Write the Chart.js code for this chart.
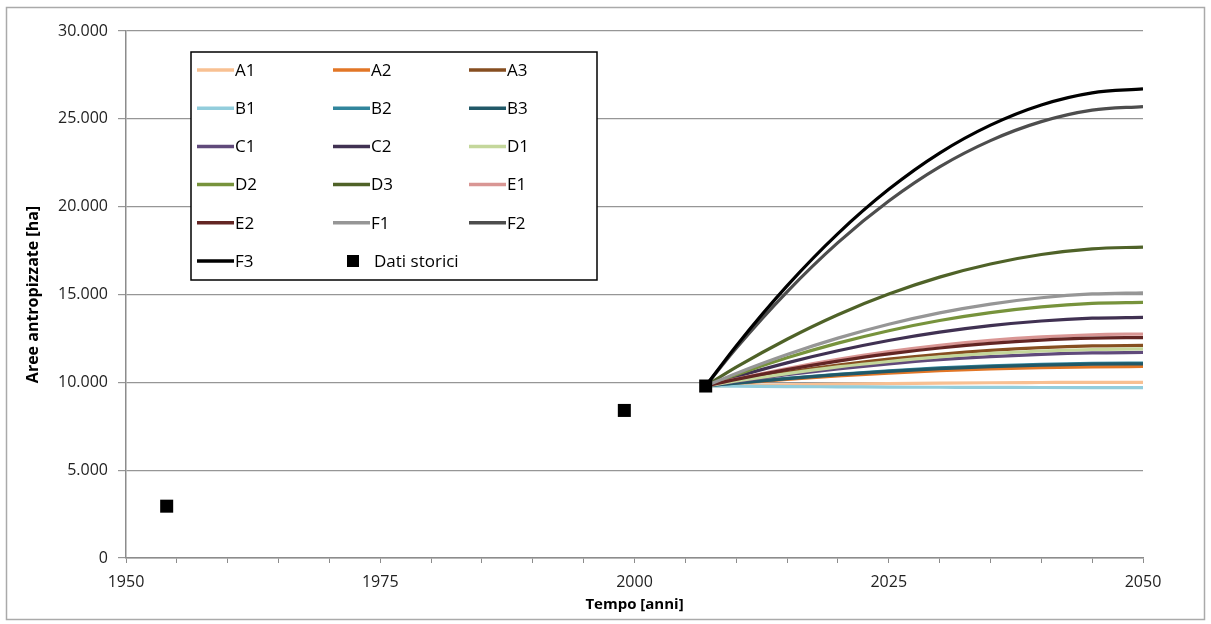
<!DOCTYPE html>
<html>
<head>
<meta charset="utf-8">
<script src="https://cdn.jsdelivr.net/npm/chart.js@4/dist/chart.umd.min.js"></script>
<style>
  html, body { margin: 0; padding: 0; background: #fff; }
  #wrap { width: 1211px; height: 624px; }
</style>
</head>
<body>
<div id="wrap"><canvas id="myChart" width="1211" height="624"></canvas></div>
<script>
// scenario years and values
const years = [2007, 2010, 2015, 2020, 2025, 2030, 2035, 2040, 2045, 2050];
const a1 = [9790, 9820, 9860, 9900, 9930, 9955, 9975, 9990, 10000, 10000];
const a2 = [9790, 9940, 10165, 10360, 10525, 10660, 10765, 10840, 10885, 10900];
const a3 = [9790, 10100, 10570, 10975, 11320, 11600, 11820, 11975, 12070, 12100];
const b1 = [9790, 9780, 9760, 9745, 9730, 9720, 9710, 9705, 9700, 9700];
const b2 = [9790, 9965, 10230, 10460, 10655, 10820, 10940, 11030, 11085, 11100];
const b3 = [9790, 9960, 10215, 10435, 10625, 10780, 10895, 10980, 11035, 11050];
const c1 = [9790, 10050, 10435, 10770, 11055, 11290, 11465, 11595, 11675, 11700];
const c2 = [9790, 10320, 11110, 11795, 12380, 12855, 13225, 13490, 13650, 13700];
const d1 = [9790, 10075, 10500, 10875, 11185, 11445, 11645, 11785, 11870, 11900];
const d2 = [9790, 10435, 11395, 12230, 12940, 13520, 13970, 14295, 14490, 14550];
const d3 = [9790, 10860, 12455, 13850, 15025, 15990, 16735, 17275, 17600, 17700];
const e1 = [9790, 10190, 10790, 11310, 11750, 12110, 12390, 12590, 12710, 12750];
const e2 = [9790, 10165, 10720, 11205, 11620, 11955, 12215, 12400, 12515, 12550];
const f1 = [9790, 10505, 11580, 12515, 13305, 13955, 14455, 14815, 15030, 15100];
const f2 = [9790, 11940, 15150, 17950, 20320, 22265, 23760, 24840, 25495, 25700];
const f3 = [9790, 12075, 15490, 18465, 20985, 23050, 24640, 25790, 26480, 26700];

const histYears = [1954, 1999, 2007];
const histValues = [2950, 8400, 9790];

const seriesNames = ['A1', 'A2', 'A3', 'B1', 'B2', 'B3', 'C1', 'C2', 'D1', 'D2', 'D3', 'E1', 'E2', 'F1', 'F2', 'F3'];
const seriesValues = [a1, a2, a3, b1, b2, b3, c1, c2, d1, d2, d3, e1, e2, f1, f2, f3];
const seriesColors = [
    'rgb(248,192,146)', 'rgb(226,118,38)', 'rgb(134,78,32)',
    'rgb(146,205,220)', 'rgb(49,133,156)', 'rgb(33,89,104)',
    'rgb(96,74,123)', 'rgb(64,49,82)', 'rgb(196,215,155)',
    'rgb(119,147,60)', 'rgb(79,98,40)', 'rgb(217,150,148)',
    'rgb(99,37,35)', 'rgb(150,150,150)', 'rgb(77,77,77)', 'rgb(0,0,0)'
];
const histLabel = 'Dati storici';

const xTicks = [1950, 1975, 2000, 2025, 2050];
const FONT = "'Open Sans', sans-serif";

let datasets = seriesNames.map((name, i) => ({
    label: name,
    type: 'line',
    data: years.map((y, j) => ({ x: y, y: seriesValues[i][j] })),
    borderColor: seriesColors[i],
    backgroundColor: seriesColors[i],
    borderWidth: 3.2,
    pointRadius: 0,
    cubicInterpolationMode: 'monotone',
    fill: false,
    order: 100 - i
}));
datasets.push({
    label: histLabel,
    type: 'scatter',
    data: histYears.map((y, j) => ({ x: y, y: histValues[j] })),
    pointStyle: 'rect',
    pointRadius: 9.2,
    pointBackgroundColor: '#000',
    pointBorderColor: '#000',
    pointBorderWidth: 0,
    showLine: false,
    order: 0
});

const frame = {
    id: 'frame',
    beforeDraw(chart) {
        let c = chart.ctx;
        c.save();
        c.fillStyle = '#fff';
        c.fillRect(0, 0, chart.width, chart.height);
        c.strokeStyle = 'rgb(170,170,170)';
        c.lineWidth = 1.5;
        c.strokeRect(6.5, 7.5, 1198, 612);
        c.restore();
    }
};

const boxLegend = {
    id: 'boxLegend',
    afterDraw(chart) {
        let c = chart.ctx;
        c.save();
        c.fillStyle = '#fff';
        c.fillRect(191, 52, 406, 228);
        c.strokeStyle = '#000';
        c.lineWidth = 1.5;
        c.strokeRect(191, 52, 406, 228);
        c.font = '17px ' + FONT;
        c.textBaseline = 'middle';
        let colX = [197, 333, 469];
        chart.data.datasets.forEach((ds, i) => {
            let x = colX[i % 3];
            let y = 70 + Math.floor(i / 3) * 38.2;
            c.fillStyle = '#000';
            if (ds.type === 'scatter') {
                c.fillRect(347, y - 6, 12, 12);
                c.fillText(ds.label, 374, y + 1);
            } else {
                c.strokeStyle = ds.borderColor;
                c.lineWidth = 3.5;
                c.beginPath();
                c.moveTo(x, y);
                c.lineTo(x + 37, y);
                c.stroke();
                c.fillStyle = '#000';
                c.fillText(ds.label, x + 38, y + 1);
            }
        });
        c.restore();
    }
};

let ctx = document.getElementById('myChart').getContext('2d');
let myChart = new Chart(ctx, {
    type: 'line',
    data: { datasets: datasets },
    plugins: [frame, boxLegend],
    options: {
        responsive: false,
        animation: false,
        layout: { padding: { top: 31, right: 68, left: 0, bottom: 0 } },
        plugins: {
            legend: { display: false },
            tooltip: { enabled: false }
        },
        scales: {
            x: {
                type: 'linear',
                min: 1950,
                max: 2050,
                afterFit: scale => { scale.height = 66; },
                afterBuildTicks: scale => {
                    let t = [];
                    for (let v = 1950; v <= 2050; v += 5) t.push({ value: v });
                    scale.ticks = t;
                },
                ticks: {
                    autoSkip: false,
                    maxRotation: 0,
                    padding: 10,
                    color: '#222',
                    font: { family: FONT, size: 16 },
                    callback: v => xTicks.includes(v) ? String(v) : ''
                },
                grid: {
                    drawOnChartArea: false,
                    drawTicks: true,
                    tickLength: 5,
                    color: 'rgb(140,140,140)'
                },
                border: { color: 'rgb(140,140,140)', width: 1.5 },
                title: {
                    display: true,
                    text: 'Tempo [anni]',
                    color: '#000',
                    font: { family: FONT, size: 15, weight: 'bold' },
                    padding: { top: 0, bottom: 10 }
                }
            },
            y: {
                min: 0,
                max: 30000,
                afterFit: scale => { scale.width = 126; },
                ticks: {
                    stepSize: 5000,
                    padding: 10,
                    color: '#222',
                    font: { family: FONT, size: 16 },
                    callback: v => String(v).replace(/\B(?=(\d{3})+(?!\d))/g, '.')
                },
                grid: {
                    color: 'rgb(150,150,150)',
                    lineWidth: 1.2,
                    tickLength: 8
                },
                border: { color: 'rgb(140,140,140)', width: 1.5 },
                title: {
                    display: true,
                    text: 'Aree antropizzate [ha]',
                    color: '#000',
                    font: { family: FONT, size: 16, weight: 'bold' },
                    padding: { top: 24, bottom: 0 }
                }
            }
        }
    }
});
</script>
</body>
</html>
